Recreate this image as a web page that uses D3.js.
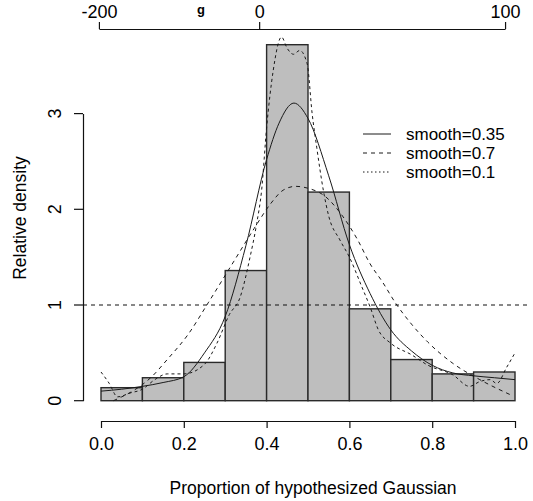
<!DOCTYPE html>
<html><head><meta charset="utf-8">
<script src="https://cdn.jsdelivr.net/npm/d3@7"></script>
<style>
body{margin:0;background:#fff;}
svg{display:block;font-family:"Liberation Sans",Arial,Helvetica,sans-serif;}
</style></head>
<body>
<svg id="c" width="533" height="501"></svg>
<script>
// ---- data ----
const breaks = [0,0.1,0.2,0.3,0.4,0.5,0.6,0.7,0.8,0.9,1.0];
const density = [0.136,0.24,0.40,1.36,3.72,2.18,0.96,0.43,0.28,0.30];

const s035x = [0,0.05,0.1,0.15,0.2,0.25,0.3,0.35,0.4,0.43,0.466,0.5,0.55,0.6,0.65,0.7,0.75,0.8,0.85,0.9,0.95,1.0];
const s035y = [0.10,0.12,0.15,0.19,0.25,0.50,0.88,1.62,2.52,2.90,3.11,2.95,2.35,1.63,1.12,0.74,0.52,0.37,0.29,0.26,0.24,0.22];

const s07x = [0.03,0.05,0.08,0.12,0.16,0.21,0.26,0.32,0.37,0.41,0.44,0.47,0.50,0.54,0.585,0.62,0.65,0.68,0.71,0.75,0.79,0.85,0.915,0.99];
const s07y = [0.0,0.04,0.11,0.24,0.43,0.69,1.03,1.45,1.80,2.06,2.20,2.24,2.22,2.14,1.92,1.68,1.43,1.24,1.03,0.80,0.61,0.39,0.22,0.06];

const s01x = [0.0,0.02,0.04,0.07,0.1,0.13,0.16,0.2,0.25,0.28,0.31,0.336,0.36,0.376,0.388,0.40,0.416,0.436,0.45,0.465,0.48,0.498,0.51,0.521,0.537,0.55,0.577,0.6,0.63,0.65,0.67,0.70,0.75,0.79,0.85,0.89,0.915,0.94,0.956,0.98,1.0];
const s01y = [0.30,0.18,0.04,0.08,0.12,0.22,0.28,0.28,0.38,0.60,0.90,1.08,1.50,1.85,2.20,2.85,3.45,3.80,3.68,3.62,3.66,3.52,3.00,2.65,2.20,1.93,1.68,1.50,1.19,0.98,0.74,0.60,0.48,0.37,0.27,0.15,0.20,0.22,0.18,0.35,0.50];

const xTicks = [0,0.2,0.4,0.6,0.8,1.0];
const yTicks = [0,1,2,3];
const topTicks = [-200,0,100];
const topTickProps = [-0.005,0.382,0.976];
const legendLabels = ["smooth=0.35","smooth=0.7","smooth=0.1"];
const refLine = 1;

// ---- scales ----
const x = d3.scaleLinear().domain([0,1]).range([101,515]);
const y = d3.scaleLinear().domain([0,3]).range([400.7,113.6]);
const xTop = d3.scaleLinear().domain(topTicks).range(topTickProps.map(p=>x(p)));

const svg = d3.select("#c");
const ink = "#111";

// bars
const bins = density.map((d,i)=>({x0:breaks[i],x1:breaks[i+1],v:d}));
svg.append("g").selectAll("rect").data(bins).join("rect")
  .attr("x",d=>x(d.x0)).attr("width",d=>x(d.x1)-x(d.x0))
  .attr("y",d=>y(d.v)).attr("height",d=>y(0)-y(d.v))
  .attr("fill","#bebebe").attr("stroke","#2a2a2a").attr("stroke-width",1.4);

// reference line
svg.append("line").attr("x1",83).attr("x2",530).attr("y1",y(refLine)).attr("y2",y(refLine))
  .attr("stroke",ink).attr("stroke-width",1).attr("stroke-dasharray","4,4");

// curves
const line = d3.line().x(d=>x(d[0])).y(d=>y(d[1])).curve(d3.curveMonotoneX);
const curves = [
  {xs:s035x, ys:s035y, dash:null},
  {xs:s07x, ys:s07y, dash:"4,4"},
  {xs:s01x, ys:s01y, dash:"3,3"}
];
curves.forEach(c=>{
  svg.append("path").datum(c.xs.map((v,i)=>[v,c.ys[i]]))
    .attr("d",line).attr("fill","none").attr("stroke","#1a1a1a").attr("stroke-width",1)
    .attr("stroke-dasharray",c.dash);
});

// bottom axis
const xAx = svg.append("g").attr("transform","translate(0,421)")
  .call(d3.axisBottom(x).tickValues(xTicks).tickFormat(d3.format(".1f")).tickSize(7).tickSizeOuter(0));
// left axis
const yAx = svg.append("g").attr("transform","translate(83,0)")
  .call(d3.axisLeft(y).tickValues(yTicks).tickFormat(d=>String(d)).tickSize(9).tickSizeOuter(0));
// top axis
const tAx = svg.append("g").attr("transform","translate(0,29)")
  .call(d3.axisTop(xTop).tickValues(topTicks).tickFormat(d=>String(d)).tickSize(7).tickSizeOuter(0));

[xAx,yAx,tAx].forEach(g=>{
  g.select(".domain").attr("stroke",ink).attr("stroke-width",1.2);
  g.selectAll(".tick line").attr("stroke",ink).attr("stroke-width",1.2);
  g.selectAll(".tick text").attr("fill","#000").style("font-size","18px")
    .style("font-family","'Liberation Sans',Arial,sans-serif");
});
xAx.selectAll(".tick text").attr("dy",null).attr("y",29);
tAx.selectAll(".tick text").attr("y",-11);
yAx.selectAll(".tick").attr("transform",null);
yAx.selectAll(".tick line").attr("y1",d=>y(d)).attr("y2",d=>y(d));
yAx.selectAll(".tick text").attr("x",null).attr("dy",null).attr("y",0)
  .attr("transform",d=>`translate(-28,${y(d)}) rotate(-90)`)
  .attr("text-anchor","middle").attr("dominant-baseline","central");

// axis titles
svg.append("text").attr("x",313).attr("y",494).attr("text-anchor","middle")
  .style("font-size","17.5px").attr("fill","#000").text("Proportion of hypothesized Gaussian");
svg.append("text").attr("transform","translate(26,218) rotate(-90)").attr("text-anchor","middle")
  .style("font-size","17.5px").attr("fill","#000").text("Relative density");

// title fragment (mostly above the frame in the reference)
svg.append("text").attr("x",197).attr("y",14).style("font-size","13px").style("font-weight","bold")
  .attr("fill","#000").text("g");

// legend
const lg = svg.append("g");
const dashes = [null,"4,4","1.5,2.5"];
legendLabels.forEach((t,i)=>{
  const yy = 134 + i*19;
  lg.append("line").attr("x1",363).attr("x2",391).attr("y1",yy).attr("y2",yy)
    .attr("stroke","#1a1a1a").attr("stroke-width",1).attr("stroke-dasharray",dashes[i]);
  lg.append("text").attr("x",406).attr("y",yy).attr("dy","0.36em")
    .style("font-size","17px").attr("fill","#000").text(t);
});
</script>
</body></html>
